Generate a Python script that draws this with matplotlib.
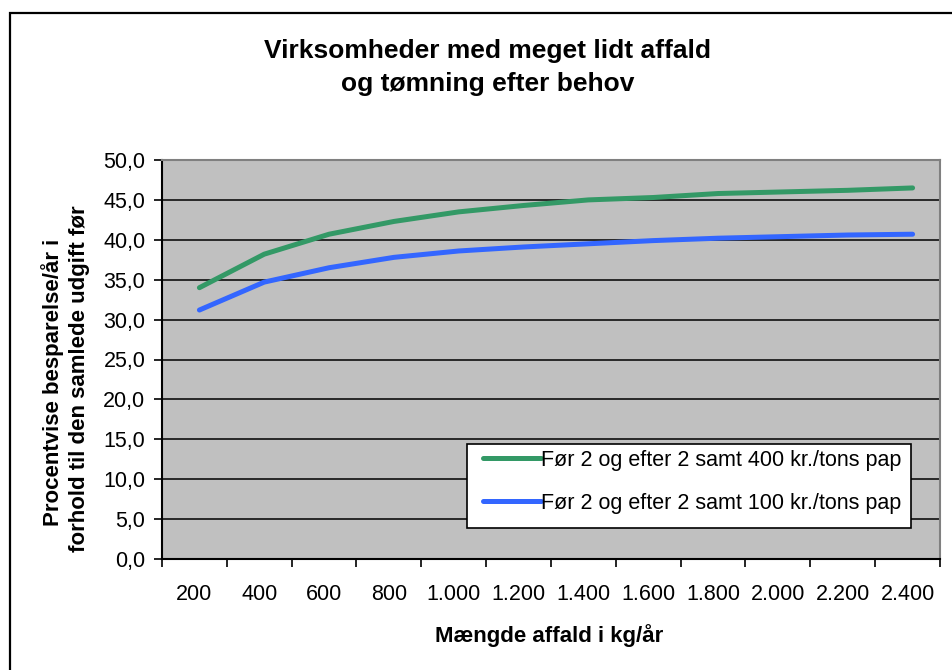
import matplotlib
matplotlib.use("Agg")
import matplotlib.pyplot as plt
from matplotlib.patches import Rectangle
from matplotlib.transforms import ScaledTranslation

plt.rcParams["font.family"] = ["Liberation Sans", "DejaVu Sans"]

# --- data --------------------------------------------------------------------
categories = ["200", "400", "600", "800", "1.000", "1.200", "1.400",
              "1.600", "1.800", "2.000", "2.200", "2.400"]
pap_400 = [34.0, 38.2, 40.7, 42.3, 43.5, 44.3, 45.0, 45.3, 45.8, 46.0, 46.2, 46.5]
pap_100 = [31.2, 34.7, 36.5, 37.8, 38.6, 39.1, 39.5, 39.9, 40.2, 40.4, 40.6, 40.7]
y_ticks = [0, 5, 10, 15, 20, 25, 30, 35, 40, 45, 50]
y_tick_labels = ["0,0", "5,0", "10,0", "15,0", "20,0", "25,0", "30,0",
                 "35,0", "40,0", "45,0", "50,0"]
label_400 = "Før 2 og efter 2 samt 400 kr./tons pap"
label_100 = "Før 2 og efter 2 samt 100 kr./tons pap"

W, H = 953, 670
FS = 15.5

fig = plt.figure(figsize=(W / 100, H / 100), dpi=100)
ax = fig.add_axes([162 / W, 1 - 559 / H, (940 - 162) / W, (559 - 160) / H])
ax.set_facecolor("#C0C0C0")

x = list(range(len(categories)))
shift = ax.transData + ScaledTranslation(5 / 100, 0, fig.dpi_scale_trans)
ax.plot(x, pap_400, color="#339966", linewidth=3.6, solid_capstyle="round",
        transform=shift, label=label_400, zorder=3)
ax.plot(x, pap_100, color="#3366FF", linewidth=3.6, solid_capstyle="round",
        transform=shift, label=label_100, zorder=3)

ax.set_xlim(-0.5, len(categories) - 0.5)
ax.set_ylim(0, 50)

# y axis
ax.set_yticks(y_ticks)
ax.set_yticklabels(y_tick_labels, fontsize=FS)
ax.yaxis.grid(True, color="black", linewidth=1.1)
ax.set_axisbelow(True)
ax.tick_params(axis="y", direction="out", length=6, width=1.2, pad=6)

# x axis: labels at category centres, tick marks between categories
ax.set_xticks(x)
ax.set_xticklabels(categories, fontsize=FS)
ax.set_xticks([i - 0.5 for i in range(len(categories) + 1)], minor=True)
ax.tick_params(axis="x", which="major", length=0, pad=18)
ax.tick_params(axis="x", which="minor", direction="out", length=6, width=1.2)

for side in ("left", "bottom"):
    ax.spines[side].set_color("black")
    ax.spines[side].set_linewidth(1.5)
for side in ("top", "right"):
    ax.spines[side].set_color("#808080")
    ax.spines[side].set_linewidth(1.5)

# titles and labels
fig.text(488 / W, 1 - 58 / H, "Virksomheder med meget lidt affald",
         ha="center", va="baseline", fontsize=19, fontweight="bold")
fig.text(488 / W, 1 - 91 / H, "og tømning efter behov",
         ha="center", va="baseline", fontsize=19, fontweight="bold")
fig.text(549 / W, 1 - 642 / H, "Mængde affald i kg/år",
         ha="center", va="baseline", fontsize=16, fontweight="bold")
fig.text(53 / W, 1 - 382 / H, "Procentvise besparelse/år i",
         ha="center", va="center", rotation=90, fontsize=16, fontweight="bold")
fig.text(80 / W, 1 - 379 / H, "forhold til den samlede udgift før",
         ha="center", va="center", rotation=90, fontsize=16, fontweight="bold")

# legend: white box drawn by hand, entries placed inside it
ax.add_patch(Rectangle((467 / W, 1 - 528 / H), (911 - 467) / W, (528 - 444) / H,
                       transform=fig.transFigure, facecolor="white",
                       edgecolor="black", linewidth=1.2, zorder=4,
                       clip_on=False))
leg = ax.legend(loc="upper left", bbox_to_anchor=(483 / W, 1 - 450 / H),
                bbox_transform=fig.transFigure, borderaxespad=0,
                fontsize=FS, frameon=False, handlelength=2.7,
                handletextpad=0.0, borderpad=0.0, labelspacing=1.0)
leg.set_zorder(5)

# outer chart border (runs off the right and bottom edges)
fig.patches.append(Rectangle((10 / W, -0.05), 1.1, 1.05 - 13 / H,
                             transform=fig.transFigure, fill=False,
                             edgecolor="black", linewidth=1.6))

fig.savefig("out.png", dpi=100)
